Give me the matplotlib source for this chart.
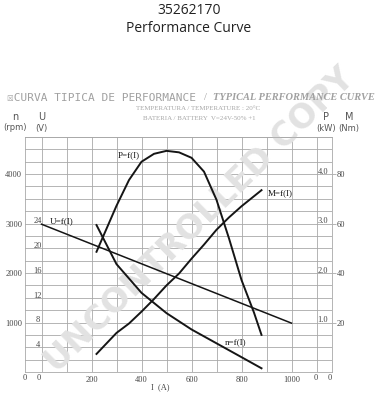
import matplotlib
matplotlib.use("Agg")
import matplotlib.pyplot as plt
import numpy as np

# --- data ---
current_n = [220, 300, 400, 500, 600, 700, 800, 880]
speed_rpm = [2970, 2180, 1600, 1190, 860, 580, 300, 75]

current_p = [220, 300, 350, 400, 450, 500, 550, 600, 650, 700, 750, 800, 850, 880]
power_kw = [2.43, 3.36, 3.88, 4.25, 4.41, 4.47, 4.44, 4.33, 4.05, 3.48, 2.70, 1.86, 1.20, 0.75]

current_m = [220, 300, 350, 400, 450, 500, 550, 600, 650, 700, 750, 800, 880]
torque_nm = [7.3, 15.8, 19.6, 24.4, 29.5, 35.0, 39.8, 45.8, 51.5, 57.5, 62.5, 67.0, 73.5]

current_u = [0, 500, 1000]
voltage_v = [23.9, 15.9, 7.9]

rpm_ticks = [1000, 2000, 3000, 4000]
u_ticks = [4, 8, 12, 16, 20, 24]
p_ticks = [1.0, 2.0, 3.0, 4.0]
m_ticks = [20, 40, 60, 80]
i_ticks = [200, 400, 600, 800, 1000]

W, H = 378, 400
SERIF = "Liberation Serif"
GRID = "#a8a8a8"
INK = "#151515"
TXT = "#444444"


def fx(px):
    return px / W


def fy(py):
    return 1 - py / H


fig = plt.figure(figsize=(W / 100, H / 100), dpi=100)
ax = fig.add_axes([fx(25), 28 / H, 307 / W, 235 / H])

rpm_top = 4750
ax.set_xlim(-66, 1162)
ax.set_ylim(0, rpm_top)

# grid every 100 A / 250 rpm
ax.set_xticks(i_ticks)
ax.set_xticks(np.arange(0, 1101, 100), minor=True)
ax.set_yticks(rpm_ticks)
ax.set_yticks(np.arange(0, rpm_top + 1, 250), minor=True)
ax.grid(which="both", color=GRID, lw=0.6)
ax.set_axisbelow(True)
ax.tick_params(which="both", length=0)
ax.tick_params(axis="x", pad=3, labelsize=6, labelcolor=TXT)
ax.tick_params(axis="y", pad=2, labelsize=6, labelcolor=TXT)
for lab in ax.get_xticklabels() + ax.get_yticklabels():
    lab.set_family(SERIF)
for s in ax.spines.values():
    s.set_color(GRID)
    s.set_linewidth(0.6)

# secondary scales sharing the same grid
ax_u = ax.twinx()
ax_u.set_ylim(0, rpm_top / 125)
ax_p = ax.twinx()
ax_p.set_ylim(0, rpm_top / 1000)
ax_m = ax.twinx()
ax_m.set_ylim(0, rpm_top / 50)
for a in (ax_u, ax_p, ax_m):
    for s in a.spines.values():
        s.set_visible(False)
    a.set_yticks([])
ax_m.set_yticks(m_ticks)
ax_m.tick_params(axis="y", length=3, width=0.6, color=GRID, pad=0.5,
                 labelsize=6, labelcolor=TXT)
for lab in ax_m.get_yticklabels():
    lab.set_family(SERIF)

# curves
ax.plot(current_n, speed_rpm, color=INK, lw=1.4, zorder=3)
ax_p.plot(current_p, power_kw, color=INK, lw=1.4, zorder=3)
ax_m.plot(current_m, torque_nm, color=INK, lw=1.4, zorder=3)
ax_u.plot(current_u, voltage_v, color=INK, lw=1.1, zorder=3)

# inner scale labels
for v in u_ticks:
    ax_u.text(-16, v + 0.35, str(v), ha="center", va="center",
              fontsize=6, family=SERIF, color=TXT)
for v in p_ticks:
    ax_p.text(1146, v + 0.05, f"{v:.1f}", ha="right", va="center",
              fontsize=6, family=SERIF, color=TXT)
xt = ax.get_xaxis_transform()
for xv in (-66, -10, 1096, 1152):
    ax.text(xv, -0.027, "0", transform=xt, ha="center", va="center",
            fontsize=6, family=SERIF, color=TXT, clip_on=False)
fig.text(fx(160), fy(387), "I  (A)", ha="center", va="center",
         fontsize=6, family=SERIF, color=TXT)

# curve names
for xv, yv, name in [(349, 4383, "P=f(I)"), (953, 3616, "M=f(I)"),
                     (81, 3050, "U=f(I)"), (777, 606, "n=f(I)")]:
    ax.text(xv, yv, name, ha="center", va="center", fontsize=6.5,
            family=SERIF, color=INK, zorder=4)

# axis names
for x, y1, y2, a, b in [(15, 117, 128, "n", "(rpm)"), (41.7, 117, 129, "U", "(V)"),
                        (326, 117, 128, "P", "(kW)"), (349, 117, 128, "M", "(Nm)")]:
    fig.text(fx(x), fy(y1), a, ha="center", va="center", fontsize=7, color="#555555")
    fig.text(fx(x), fy(y2), b, ha="center", va="center", fontsize=6, color="#555555")

# headings
fig.text(0.5, fy(11), "35262170", ha="center", va="center",
         fontsize=10, family="Open Sans", color="#222222")
fig.text(0.5, fy(28), "Performance Curve", ha="center", va="center",
         fontsize=10, family="Open Sans", color="#222222")
fig.text(fx(7), fy(98), "\u2612CURVA TIPICA DE PERFORMANCE", ha="left", va="center",
         fontsize=8, family=["DejaVu Sans Mono", "DejaVu Sans"], color="#a0a0a0")
fig.text(fx(205), fy(98), "/", ha="center", va="center",
         fontsize=7.5, family=SERIF, color="#a0a0a0")
fig.text(fx(375), fy(98), "TYPICAL PERFORMANCE CURVE", ha="right", va="center",
         fontsize=7.5, family=SERIF, style="italic", weight="bold", color="#a0a0a0")
fig.text(fx(198), fy(108), "TEMPERATURA / TEMPERATURE : 20\u00b0C", ha="center",
         va="center", fontsize=5, family=SERIF, color="#a8a8a8")
fig.text(fx(199), fy(118), "BATERIA / BATTERY  V=24V-50% +1", ha="center",
         va="center", fontsize=5, family=SERIF, color="#a8a8a8")

# watermark
ax.text(fx(200), fy(220), "UNCONTROLLED COPY", transform=fig.transFigure,
        rotation=44.5, rotation_mode="anchor", ha="center", va="center",
        fontsize=24, weight="bold", color="#e2e2e2",
        zorder=1.5, clip_on=False)

fig.savefig("out.png", dpi=100)
